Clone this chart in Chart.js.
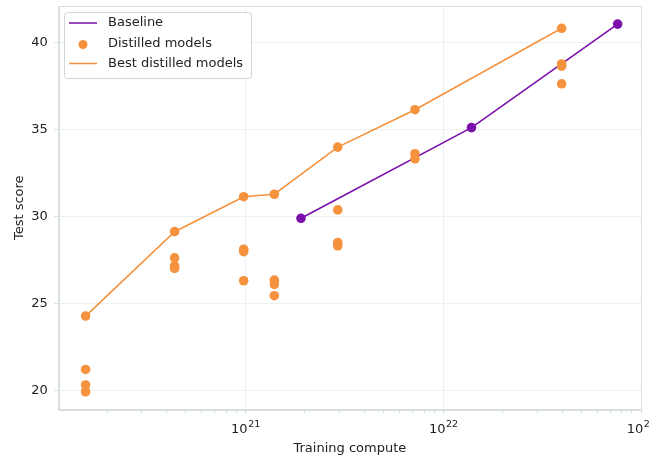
<!DOCTYPE html>
<html>
<head>
<meta charset="utf-8">
<script src="https://cdn.jsdelivr.net/npm/chart.js@4"></script>
<style>
  html, body { margin: 0; padding: 0; background: #fff; }
  #wrap { width: 649px; height: 456px; position: relative; }
</style>
</head>
<body>
<div id="wrap"><canvas id="chart"></canvas></div>
<script>
const baselineCompute = [1.91e21, 1.39e22, 7.62e22];
const baselineScore = [29.91, 35.12, 41.07];

const distilledCompute = [
  1.556e20, 1.556e20, 1.556e20, 1.556e20,
  4.385e20, 4.385e20, 4.385e20, 4.385e20,
  9.8e20, 9.8e20, 9.8e20, 9.8e20,
  1.40e21, 1.40e21, 1.40e21, 1.40e21,
  2.93e21, 2.93e21, 2.93e21, 2.93e21,
  7.2e21, 7.2e21, 7.2e21,
  3.97e22, 3.97e22, 3.97e22, 3.97e22
];
const distilledScore = [
  24.29, 21.22, 20.33, 19.94,
  29.14, 27.64, 27.17, 27.03,
  31.15, 28.13, 27.99, 26.32,
  31.29, 26.36, 26.11, 25.46,
  34.0, 30.39, 28.52, 28.33,
  36.15, 33.62, 33.33,
  40.83, 38.78, 38.65, 37.64
];

const bestCompute = [1.556e20, 4.385e20, 9.8e20, 1.40e21, 2.93e21, 7.2e21, 3.97e22];
const bestScore = [24.29, 29.14, 31.15, 31.29, 34.0, 36.15, 40.83];

const yTicks = [20, 25, 30, 35, 40];
const xDecades = [21, 22, 23];

const PURPLE = '#7b0fa9';
const ORANGE = '#f5923e';
const TEXT = '#222222';
const SPINE = '#d6dfde';
const FONT = 'DejaVu Sans';

function pts(xs, ys) {
  return xs.map((x, i) => ({ x: x, y: ys[i] }));
}

function isDecade(v) {
  const l = Math.log10(v);
  return Math.abs(l - Math.round(l)) < 1e-6;
}

// frame on all four sides + 10^n labels with real superscripts
const frameAndLabels = {
  id: 'frameAndLabels',
  afterDraw(chart) {
    const c = chart.ctx;
    const a = chart.chartArea;
    c.save();
    c.strokeStyle = SPINE;
    c.lineWidth = 1;
    c.strokeRect(Math.round(a.left) + 0.5, Math.round(a.top) + 0.5,
      Math.round(a.right - a.left), Math.round(a.bottom - a.top));

    const xs = chart.scales.x;
    c.fillStyle = TEXT;
    c.textBaseline = 'alphabetic';
    xDecades.forEach(e => {
      const px = xs.getPixelForValue(Math.pow(10, e));
      c.font = '13px "' + FONT + '"';
      const wBase = c.measureText('10').width;
      c.font = '9.5px "' + FONT + '"';
      const wExp = c.measureText(String(e)).width;
      const x0 = px - (wBase + wExp) / 2;
      c.font = '13px "' + FONT + '"';
      c.textAlign = 'left';
      c.fillText('10', x0, a.bottom + 23);
      c.font = '9.5px "' + FONT + '"';
      c.fillText(String(e), x0 + wBase + 0.5, a.bottom + 17);
    });
    c.restore();
  }
};

const legendBox = {
  id: 'legendBox',
  afterDraw(chart) {
    const c = chart.ctx;
    c.save();
    const x = 64.5, y = 12.5, w = 187, h = 66, r = 3;
    c.beginPath();
    c.moveTo(x + r, y);
    c.arcTo(x + w, y, x + w, y + h, r);
    c.arcTo(x + w, y + h, x, y + h, r);
    c.arcTo(x, y + h, x, y, r);
    c.arcTo(x, y, x + w, y, r);
    c.closePath();
    c.fillStyle = 'rgba(255,255,255,0.85)';
    c.fill();
    c.strokeStyle = '#d4d4d4';
    c.lineWidth = 1;
    c.stroke();

    const rows = [
      { label: 'Baseline', kind: 'line', color: PURPLE, y: 23 },
      { label: 'Distilled models', kind: 'dot', color: ORANGE, y: 43.5 },
      { label: 'Best distilled models', kind: 'line', color: ORANGE, y: 63.5 }
    ];
    c.font = '13px "' + FONT + '"';
    c.textBaseline = 'middle';
    rows.forEach(rw => {
      if (rw.kind === 'line') {
        c.beginPath();
        c.moveTo(69, rw.y);
        c.lineTo(97, rw.y);
        c.strokeStyle = rw.color;
        c.lineWidth = 1.5;
        c.stroke();
      } else {
        c.beginPath();
        c.arc(83, rw.y + 1, 4.5, 0, Math.PI * 2);
        c.fillStyle = rw.color;
        c.fill();
      }
      c.fillStyle = TEXT;
      c.fillText(rw.label, 108, rw.y);
    });
    c.restore();
  }
};

document.addEventListener('DOMContentLoaded', function() {
  const ctx = document.getElementById('chart').getContext('2d');
  new Chart(ctx, {
    data: {
      datasets: [{
        type: 'line',
        label: 'Baseline',
        data: pts(baselineCompute, baselineScore),
        borderColor: PURPLE,
        backgroundColor: PURPLE,
        borderWidth: 1.6,
        pointRadius: 4.8,
        pointBorderWidth: 0,
        pointBackgroundColor: PURPLE,
        order: 3
      }, {
        type: 'scatter',
        label: 'Distilled models',
        data: pts(distilledCompute, distilledScore),
        backgroundColor: ORANGE,
        borderColor: ORANGE,
        pointRadius: 4.8,
        pointBorderWidth: 0,
        order: 1
      }, {
        type: 'line',
        label: 'Best distilled models',
        data: pts(bestCompute, bestScore),
        borderColor: ORANGE,
        borderWidth: 1.6,
        pointRadius: 0,
        order: 2
      }]
    },
    options: {
      responsive: true,
      maintainAspectRatio: false,
      animation: false,
      layout: { padding: { top: 6, right: 8, left: 0, bottom: 0 } },
      plugins: {
        legend: { display: false },
        tooltip: { enabled: false }
      },
      scales: {
        x: {
          type: 'logarithmic',
          min: Math.pow(10, 20.056),
          max: Math.pow(10, 23.0),
          afterBuildTicks(scale) {
            const t = [];
            for (let e = 20; e <= 22; e++) {
              for (let m = 1; m <= 10; m++) {
                const v = m * Math.pow(10, e);
                if (v >= scale.min && v <= scale.max * 1.0001 && !(m === 10 && e < 22)) t.push({ value: v });
              }
            }
            scale.ticks = t;
          },
          afterFit(scale) {
            scale.height = 46.5;
            scale.paddingLeft = 0;
            scale.paddingRight = 0;
          },
          border: { color: SPINE, width: 1 },
          grid: {
            color: c => (c.tick && isDecade(c.tick.value)) ? '#edf1f1' : 'rgba(0,0,0,0)',
            tickColor: SPINE,
            tickLength: 4,
            lineWidth: 1
          },
          ticks: {
            autoSkip: false,
            maxRotation: 0,
            padding: 4,
            color: TEXT,
            font: { family: FONT, size: 13 },
            callback() { return ''; }
          },
          title: {
            display: true,
            text: 'Training compute',
            color: TEXT,
            font: { family: FONT, size: 13 },
            padding: { top: 0, bottom: 0 }
          }
        },
        y: {
          type: 'linear',
          min: 18.92,
          max: 42.11,
          afterBuildTicks(scale) {
            scale.ticks = yTicks.map(v => ({ value: v }));
          },
          afterFit(scale) {
            scale.width = 58.7;
            scale.paddingTop = 0;
            scale.paddingBottom = 0;
          },
          border: { color: SPINE, width: 1 },
          grid: {
            color: '#edf1f1',
            tickColor: SPINE,
            tickLength: 4,
            lineWidth: 1
          },
          ticks: {
            padding: 7,
            color: TEXT,
            font: { family: FONT, size: 13 }
          },
          title: {
            display: true,
            text: 'Test score',
            color: TEXT,
            font: { family: FONT, size: 13 },
            padding: { top: 12, bottom: 0 }
          }
        }
      }
    },
    plugins: [frameAndLabels, legendBox]
  });
});
</script>
</body>
</html>
